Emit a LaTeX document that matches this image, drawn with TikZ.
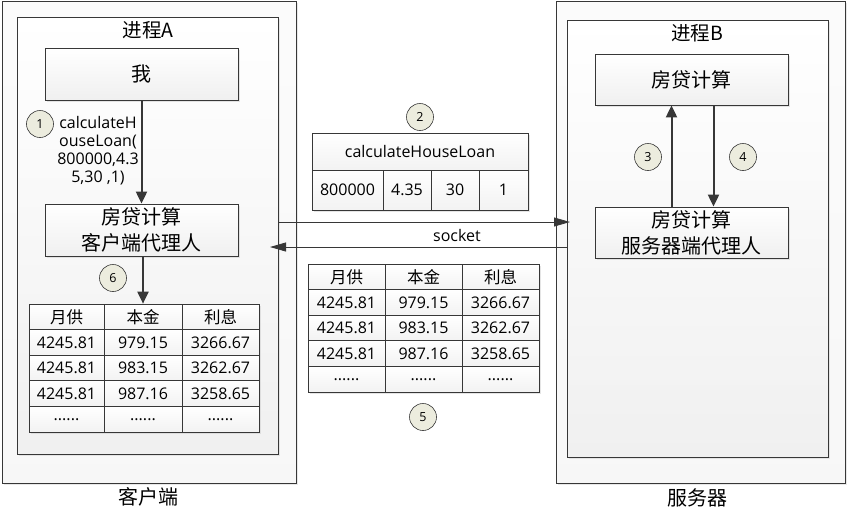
\documentclass[tikz,border=0pt]{standalone}
\usepackage{fontspec}
\setmainfont{Open Sans}
\newfontfamily\cjk{Noto Sans CJK SC}
\usetikzlibrary{arrows.meta,shadows}
\definecolor{linegray}{RGB}{55,55,55}
\definecolor{circfill}{RGB}{236,236,222}
\definecolor{panelgray}{RGB}{240,240,240}
\newcommand{\sixdots}{......}

\begin{document}
\begin{tikzpicture}[x=1pt,y=-1pt,
    panel/.style={draw=linegray,line width=0.8pt,inner sep=0pt,top color=white,bottom color=panelgray,
        drop shadow={shadow xshift=2pt,shadow yshift=-2pt,fill=gray!35,opacity=0.5}},
    box/.style={draw=linegray,line width=0.8pt,minimum width=193pt,minimum height=52pt,inner sep=0pt,
        align=center,top color=white,bottom color=gray!12,font=\cjk\fontsize{20}{26}\selectfont,
        drop shadow={shadow xshift=2pt,shadow yshift=-2pt,fill=gray!40,opacity=0.5}},
    cell/.style={draw=linegray,line width=0.7pt,inner sep=0pt,minimum height=25.6pt,
        top color=white,bottom color=gray!10,font=\fontsize{16}{18}\selectfont,
        drop shadow={shadow xshift=2pt,shadow yshift=-2pt,fill=gray!40,opacity=0.5}},
    hcell/.style={cell,font=\cjk\fontsize{16.5}{18}\selectfont},
    num/.style={circle,draw=linegray,line width=0.6pt,fill=circfill,minimum size=27pt,inner sep=0pt,
        font=\fontsize{12.5}{14}\selectfont},
    title/.style={font=\cjk\fontsize{19.5}{22}\selectfont},
    flow/.style={draw=linegray,line width=2pt,-{Triangle[length=12pt,width=11pt]}},
    sock/.style={draw=linegray,line width=0.8pt,-{Triangle[length=16pt,width=9pt]}}
]
    \useasboundingbox (0,0) rectangle (849,515);
    % Outer frames
    \node[panel,minimum width=294pt,minimum height=482pt,top color=gray!3,bottom color=gray!6] (client) at (149,242) {};
    \node[panel,minimum width=289pt,minimum height=482pt,top color=gray!3,bottom color=gray!6] (server) at (700.5,242) {};
    \node[font=\cjk\fontsize{20}{24}\selectfont] (clientname) at (148,497) {客户端};
    \node[font=\cjk\fontsize{20}{24}\selectfont] (servername) at (697,498) {服务器};
    % Process A
    \node[panel,minimum width=261pt,minimum height=437pt] (procA) at (147.5,235.5) {};
    \node[title] (procAname) at (148,30) {进程A};
    \node[box] (me) at (141.5,74) {我};
    \node[box] (cproxy) at (141.5,230) {房贷计算\\客户端代理人};
    \node[num] (n1) at (40,124) {1};
    \node[align=center,font=\fontsize{16}{18}\selectfont] (calltext) at (98,151) {calculateH\\ouseLoan(\\800000,4.3\\5,30 ,1)};
    \node[num] (n6) at (113,278) {6};
    % Result table (client)
    \node[hcell,minimum width=75pt] (lh1) at (66.5,316.8) {月供};
    \node[hcell,minimum width=78pt] (lh2) at (143,316.8) {本金};
    \node[hcell,minimum width=77pt] (lh3) at (220.5,316.8) {利息};
    \foreach \i/\y/\a/\b/\c in {1/342.4/4245.81/979.15/3266.67,2/368/4245.81/983.15/3262.67,
        3/393.6/4245.81/987.16/3258.65,4/419.2/\sixdots/\sixdots/\sixdots}{
        \node[cell,minimum width=75pt] (l\i a) at (66.5,\y) {\a};
        \node[cell,minimum width=78pt] (l\i b) at (143,\y) {\b};
        \node[cell,minimum width=77pt] (l\i c) at (220.5,\y) {\c};
    }
    \draw[flow] (me) -- (cproxy);
    \draw[flow] (cproxy.south -| lh2) -- (lh2.north);
    % Process B
    \node[panel,minimum width=261pt,minimum height=437pt] (procB) at (697.5,238.5) {};
    \node[title] (procBname) at (697,33) {进程B};
    \node[box,minimum height=51pt] (calc) at (691.5,79.5) {房贷计算};
    \node[box,minimum height=51pt] (sproxy) at (691.5,232.5) {房贷计算\\服务器端代理人};
    \draw[flow] ([xshift=-20pt]sproxy.north) -- ([xshift=-20pt]calc.south);
    \draw[flow] ([xshift=22pt]calc.south) -- ([xshift=22pt]sproxy.north);
    \node[num] (n3) at (648,157) {3};
    \node[num] (n4) at (743,157) {4};
    % Request packet
    \node[num] (n2) at (420,117) {2};
    \node[cell,minimum width=216pt,minimum height=37pt] (chead) at (420,151.5) {calculateHouseLoan};
    \node[cell,minimum width=71pt,minimum height=40pt] (carg1) at (347.5,190) {800000};
    \node[cell,minimum width=48pt,minimum height=40pt] (carg2) at (407,190) {4.35};
    \node[cell,minimum width=48pt,minimum height=40pt] (carg3) at (455,190) {30};
    \node[cell,minimum width=49pt,minimum height=40pt] (carg4) at (503.5,190) {1};
    % Socket
    \coordinate (sockAout) at (278,222);
    \coordinate (sockBin) at (570,222);
    \coordinate (sockBout) at (567,247);
    \coordinate (sockAin) at (270,247);
    \draw[sock] (sockAout) -- (sockBin);
    \draw[sock] (sockBout) -- (sockAin);
    \node[font=\fontsize{16}{18}\selectfont] (socket) at (457,235) {socket};
    % Result table (wire)
    \node[hcell,minimum width=77pt] (mh1) at (346.5,276.8) {月供};
    \node[hcell,minimum width=77pt] (mh2) at (423.5,276.8) {本金};
    \node[hcell,minimum width=77pt] (mh3) at (500.5,276.8) {利息};
    \foreach \i/\y/\a/\b/\c in {1/302.4/4245.81/979.15/3266.67,2/328/4245.81/983.15/3262.67,
        3/353.6/4245.81/987.16/3258.65,4/379.2/\sixdots/\sixdots/\sixdots}{
        \node[cell,minimum width=77pt] (m\i a) at (346.5,\y) {\a};
        \node[cell,minimum width=77pt] (m\i b) at (423.5,\y) {\b};
        \node[cell,minimum width=77pt] (m\i c) at (500.5,\y) {\c};
    }
    \node[num] (n5) at (423,417) {5};
\end{tikzpicture}
\end{document}
